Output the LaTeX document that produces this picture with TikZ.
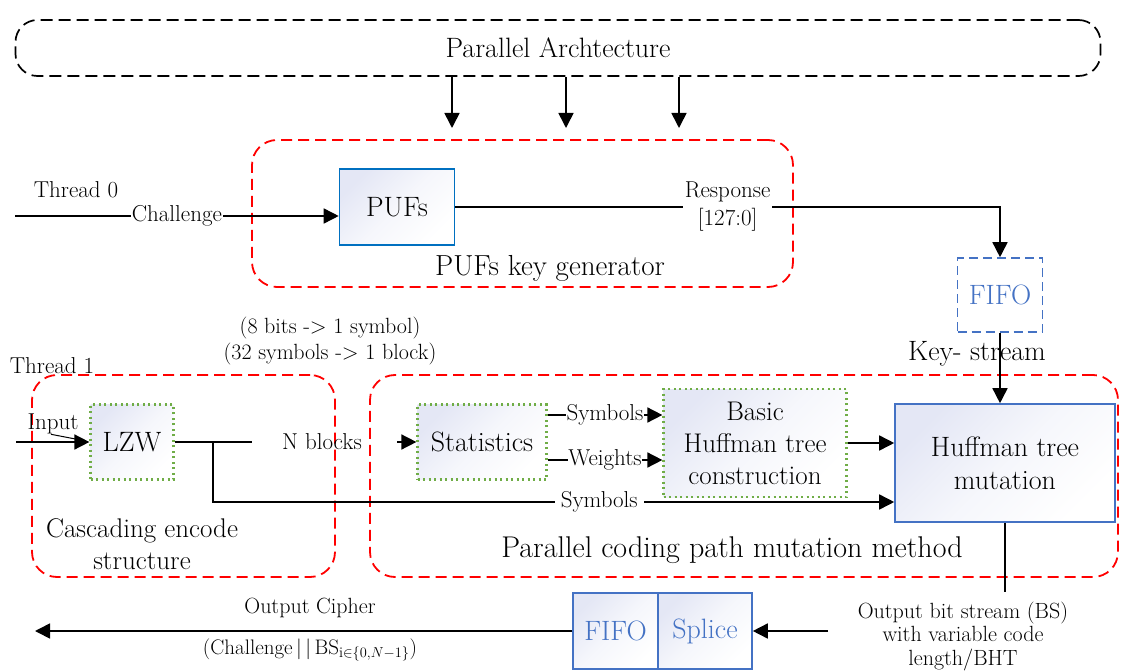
\documentclass[tikz,border=0pt]{standalone}
\usepackage{fontspec}
\usetikzlibrary{arrows.meta}
\definecolor{pufblue}{RGB}{0,112,192}
\definecolor{mutblue}{RGB}{68,114,196}
\definecolor{grn}{RGB}{112,173,71}
\definecolor{gradc}{RGB}{228,231,245}
\tikzset{
  lbl/.style={font=\fontsize{23}{28}\selectfont, inner sep=2pt},
  big/.style={font=\fontsize{28}{33}\selectfont},
  arr/.style={-{Triangle[length=15pt,width=15pt]}, line width=1.6pt},
  ln/.style={line width=1.6pt},
  redbox/.style={draw=red, dash pattern=on 11pt off 6pt, line width=1.8pt, rounded corners=25pt},
  blkbox/.style={draw=black, dash pattern=on 12pt off 6pt, line width=1.7pt, rounded corners=22pt},
  gfill/.style={top color=gradc, bottom color=white, middle color=gradc!35!white, shading angle=45},
  grnbox/.style={draw=grn, dash pattern=on 2pt off 3.5pt, line width=2.2pt, gfill, big, inner sep=0pt},
  pufbox/.style={draw=pufblue, line width=1.6pt, gfill, big, inner sep=0pt},
  mutbox/.style={draw=mutblue, line width=1.6pt, gfill, big, inner sep=0pt},
  fifobox/.style={draw=mutblue, line width=1.6pt, gfill, big, text=mutblue, inner sep=0pt},
}
\begin{document}
\begin{tikzpicture}[x=1pt,y=-1pt]
\useasboundingbox (0,0) rectangle (1121,671);
% top
\node[blkbox, minimum width=1085, minimum height=56, big] (par) at (558,48) {Parallel Archtecture};
\coordinate (a1) at (452,128);
\coordinate (a2) at (566,128);
\coordinate (a3) at (679,128);
\draw[arr] (par.south -| a1) -- (a1);
\draw[arr] (par.south -| a2) -- (a2);
\draw[arr] (par.south -| a3) -- (a3);
% PUF region
\node[redbox, minimum width=541, minimum height=147] (pufreg) at (522.5,213.5) {};
\node[font=\fontsize{29}{34}\selectfont] (pufkg) at (550,268) {PUFs key generator};
\node[pufbox, minimum width=115, minimum height=76] (pufs) at (397,207) {PUFs};
\node[lbl] (th0) at (76,190) {Thread 0};
\coordinate (c0) at (15,216);
\draw[arr] (c0) -- node[lbl, fill=white, pos=0.5, inner sep=1pt] {Challenge} (pufs.west |- c0);
\node[draw=mutblue, line width=1.6pt, text=mutblue, big, fill=white, dash pattern=on 9pt off 5pt, minimum width=85, minimum height=74] (fifo1) at (1000,295) {FIFO};
\draw[arr] (pufs.east) -- node[lbl, fill=white, align=center, pos=0.5] {Response\\{[}127:0]} (fifo1.north |- pufs.east) -- (fifo1.north);
\node[big] (ks) at (977,354) {Key- stream};
% middle
\node[lbl, align=center, font=\fontsize{22}{26}\selectfont] (bits) at (330,341) {(8 bits -> 1 symbol)\\(32 symbols -> 1 block)};
\node[lbl] (th1) at (52,366) {Thread 1};
\node[redbox, minimum width=303, minimum height=202] (casreg) at (183.5,476) {};
\node[big, align=center, font=\fontsize{27}{32}\selectfont] (caslbl) at (142,544) {Cascading encode\\structure};
\node[redbox, minimum width=748, minimum height=202] (mutreg) at (744,476) {};
\node[font=\fontsize{30}{34}\selectfont] (mutlbl) at (732,550) {Parallel coding path mutation method};
\node[grnbox, minimum width=83, minimum height=75] (lzw) at (132,442) {LZW};
\node[grnbox, minimum width=129, minimum height=75] (stat) at (482,442) {Statistics};
\node[grnbox, minimum width=183, minimum height=108, align=center, font=\fontsize{27}{32}\selectfont] (basic) at (755,443) {Basic\\Huffman tree\\construction};
\node[mutbox, minimum width=220, minimum height=118, align=center] (mut) at (1005,463) {Huffman tree\\mutation};
\coordinate (in0) at (16,442);
\draw[arr] (in0) -- (lzw.west);
\node[lbl, inner sep=0pt] (inp) at (53,424) {Input};
\draw[line width=1pt] ([xshift=-2pt]inp.south) -- ++(26,5);
\coordinate (nb1) at (252,442);
\coordinate (nb2) at (397,442);
\coordinate (br) at (213,442);
\draw[ln] (lzw.east) -- (nb1);
\node[lbl] (nbl) at (322,442) {N blocks};
\draw[arr] (nb2) -- (stat.west);
\coordinate (sy) at (600,502);
\draw[arr] (br) -- (br |- sy) -- node[lbl, fill=white, pos=0.567, inner xsep=6pt] {Symbols} (mut.west |- sy);
\coordinate (s1) at (600,415);
\coordinate (s2) at (600,460);
\draw[arr] (stat.east |- s1) -- node[lbl, fill=white, inner sep=0.5pt, pos=0.5] {Symbols} (basic.west |- s1);
\draw[arr] (stat.east |- s2) -- node[lbl, fill=white, inner sep=0.5pt, pos=0.5] {Weights} (basic.west |- s2);
\draw[arr] (basic.east) -- (mut.west |- basic.east);
\draw[arr] (fifo1.south) -- (fifo1.south |- mut.north);
% bottom
\coordinate (ob) at (1005,592);
\draw[ln] (mut.south) -- (ob);
\node[lbl, align=center, font=\fontsize{22}{23.5}\selectfont] (obs) at (963,636) {Output bit stream (BS)\\with variable code\\length/BHT};
\node[fifobox, minimum width=85, minimum height=76] (fifo2) at (615.5,631) {FIFO};
\node[fifobox, minimum width=94, minimum height=76] (splice) at (705,631) {Splice};
\coordinate (sp0) at (828,631);
\draw[arr] (sp0) -- (splice.east);
\coordinate (oc) at (35,631);
\draw[arr] (fifo2.west) -- (oc);
\node[lbl, font=\fontsize{22}{24}\selectfont] (ocl) at (310,608) {Output Cipher};
\node[lbl, font=\fontsize{21}{24}\selectfont] (ocf) at (310,650) {(Challenge$\,|\,|\,$BS$_{\mathrm{i}\in\{0,N-1\}}$)};
\end{tikzpicture}
\end{document}
